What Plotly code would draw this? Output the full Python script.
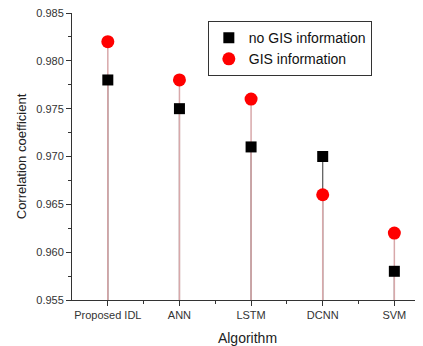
import plotly.graph_objects as go

algorithms = ["Proposed IDL", "ANN", "LSTM", "DCNN", "SVM"]
no_gis = [0.978, 0.975, 0.971, 0.970, 0.958]
gis = [0.982, 0.978, 0.976, 0.966, 0.962]
y_base = 0.955
y_ticks = [0.955, 0.960, 0.965, 0.970, 0.975, 0.980, 0.985]

xs = list(range(len(algorithms)))

def stems(vals):
    sx, sy = [], []
    for i, v in zip(xs, vals):
        sx += [i, i, None]
        sy += [y_base, v, None]
    return sx, sy

fig = go.Figure()
bx, by = stems(no_gis)
fig.add_trace(go.Scatter(x=bx, y=by, mode="lines", line=dict(color="#555555", width=1.2),
                         showlegend=False, hoverinfo="skip"))
rx, ry = stems(gis)
fig.add_trace(go.Scatter(x=rx, y=ry, mode="lines", line=dict(color="#d8a8aa", width=1.5),
                         showlegend=False, hoverinfo="skip"))
fig.add_trace(go.Scatter(x=xs, y=no_gis, mode="markers", name="no GIS information",
                         marker=dict(symbol="square", color="black", size=11,
                                     line=dict(width=0))))
fig.add_trace(go.Scatter(x=xs, y=gis, mode="markers", name="GIS information",
                         marker=dict(symbol="circle", color="#ff0000", size=13,
                                     line=dict(width=0))))

fig.update_layout(
    width=415, height=338,
    margin=dict(l=64, r=0, t=5, b=46),
    paper_bgcolor="white", plot_bgcolor="white",
    font=dict(family="Liberation Sans, Arial, sans-serif", color="#222"),
    legend=dict(x=0.387, y=0.972, xanchor="left", yanchor="top",
                bordercolor="#333", borderwidth=1, bgcolor="white",
                font=dict(size=14, color="#111"), itemwidth=30,
                tracegroupgap=0),
    xaxis=dict(range=[-0.5, 4.4], tickmode="array", tickvals=xs, ticktext=algorithms,
               showgrid=False, zeroline=False, showline=True, linecolor="#333",
               linewidth=1, ticks="outside", ticklen=5, tickcolor="#333",
               tickfont=dict(size=11, color="#333"),
               minor=dict(ticks="outside", ticklen=3, tickcolor="#333",
                          tickmode="array", tickvals=[i + 0.5 for i in xs]),
               automargin=False,
               title=dict(text="Algorithm", font=dict(size=14, color="#222"), standoff=13)),
    yaxis=dict(range=[y_base, 0.985], tickmode="array", tickvals=y_ticks,
               ticktext=[f"{v:.3f}" for v in y_ticks],
               showgrid=False, zeroline=False, showline=True, linecolor="#333",
               linewidth=1, ticks="outside", ticklen=5, tickcolor="#333",
               tickfont=dict(size=11, color="#333"), ticklabeloverflow="allow",
               minor=dict(ticks="outside", ticklen=3, tickcolor="#333",
                          tickmode="array",
                          tickvals=[v + 0.0025 for v in y_ticks[:-1]]),
               automargin=False,
               title=dict(text="Correlation coefficient", font=dict(size=13, color="#222"),
                          standoff=6)),
)

fig.write_html("out.html")
